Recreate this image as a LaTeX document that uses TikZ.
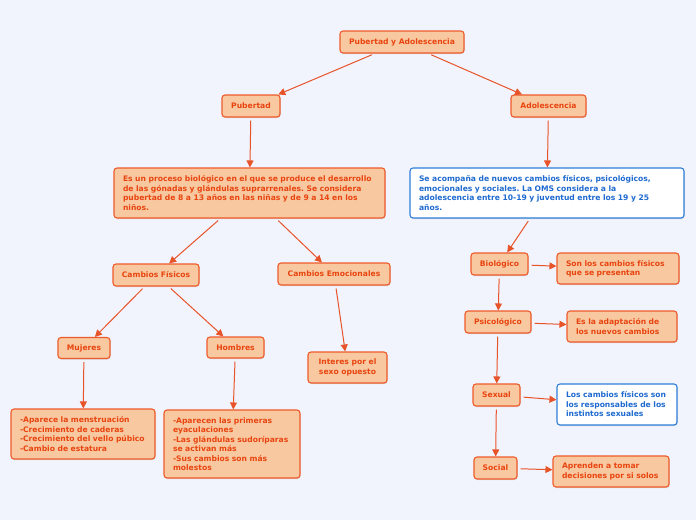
\documentclass[tikz,border=0pt]{standalone}
\usepackage{fontspec}
\setmainfont{DejaVu Sans}
\usetikzlibrary{arrows.meta,shadows}
\definecolor{bgc}{HTML}{F1F4FD}
\definecolor{fillc}{HTML}{F8C8A0}
\definecolor{bordc}{HTML}{EE5A2A}
\definecolor{txtc}{HTML}{E8440F}
\definecolor{edgec}{HTML}{E8542A}
\definecolor{bluec}{HTML}{2F7FD8}
\definecolor{bluetxt}{HTML}{1E6AD0}
\frenchspacing
\tikzset{
  box/.style={draw=bordc, fill=fillc, line width=1.1pt, rounded corners=3pt,
    text=txtc, font=\bfseries\fontsize{7.6}{9.5}\selectfont, inner sep=0pt,
    drop shadow={shadow xshift=0.6pt, shadow yshift=-1pt, opacity=0.25}},
  bluebox/.style={box, draw=bluec, fill=white, text=bluetxt},
  txtbox/.style={align=left, inner xsep=9pt},
  conn/.style={draw=edgec, line width=1pt, -{Triangle[length=7pt,width=7pt]}, shorten <=3pt}
}
\begin{document}
\begin{tikzpicture}[x=1pt,y=-1pt]
\fill[bgc] (0,0) rectangle (696,520);
\useasboundingbox (0,0) rectangle (696,520);

\node[box, minimum width=124pt, minimum height=22pt] (root) at (402,42) {Pubertad y Adolescencia};
\node[box, minimum width=58pt, minimum height=22pt] (pub) at (251,106) {Pubertad};
\node[box, minimum width=75pt, minimum height=22pt] (ado) at (548.5,106) {Adolescencia};

\node[box, txtbox, text width=253pt, minimum height=50pt] (pubd) at (249.5,193) {Es un proceso biológico en el que se produce el desarrollo\\de las gónadas y glándulas suprarrenales. Se considera\\pubertad de 8 a 13 años en las niñas y de 9 a 14 en los\\niños.};
\node[bluebox, txtbox, text width=256pt, minimum height=50pt] (adod) at (547,193) {Se acompaña de nuevos cambios físicos, psicológicos,\\emocionales y sociales. La OMS considera a la\\adolescencia entre 10-19 y juventud entre los 19 y 25\\años.};

\node[box, minimum width=86pt, minimum height=22pt] (cf) at (156,275) {Cambios Físicos};
\node[box, minimum width=112pt, minimum height=22pt] (ce) at (334,274) {Cambios Emocionales};
\node[box, minimum width=52pt, minimum height=21pt] (muj) at (84,348) {Mujeres};
\node[box, minimum width=57pt, minimum height=21pt] (hom) at (235.5,347.5) {Hombres};
\node[box, align=center, minimum width=79pt, minimum height=31pt] (int) at (347.5,367.5) {Interes por el\\sexo opuesto};

\node[box, txtbox, text width=126pt, minimum height=50pt] (mujl) at (83,434) {-Aparece la menstruación\\-Crecimiento de caderas\\-Crecimiento del vello púbico\\-Cambio de estatura};
\node[box, txtbox, text width=118pt, minimum height=68pt] (homl) at (232,444) {-Aparecen las primeras\\eyaculaciones\\-Las glándulas sudoríparas\\se activan más\\-Sus cambios son más\\molestos};

\node[box, minimum width=57pt, minimum height=22pt] (bio) at (499.5,264) {Biológico};
\node[box, txtbox, text width=104pt, minimum height=31pt] (biod) at (618,268.5) {Son los cambios físicos\\que se presentan};
\node[box, minimum width=66pt, minimum height=22pt] (psi) at (498,322) {Psicológico};
\node[box, txtbox, text width=92pt, minimum height=31pt] (psid) at (622,326.5) {Es la adaptación de\\los nuevos cambios};
\node[box, minimum width=47pt, minimum height=22pt] (sex) at (496.5,395) {Sexual};
\node[bluebox, txtbox, text width=102pt, minimum height=41pt] (sexd) at (617,404.5) {Los cambios físicos son\\los responsables de los\\instintos sexuales};
\node[box, minimum width=43pt, minimum height=22pt] (soc) at (495.5,468) {Social};
\node[box, txtbox, text width=98pt, minimum height=31pt] (socd) at (611,471.5) {Aprenden a tomar\\decisiones por si solos};

\draw[conn] (root) -- (pub);
\draw[conn] (root) -- (ado);
\draw[conn] (pub) -- (pubd);
\draw[conn] (ado) -- (adod);
\draw[conn] (pubd) -- (cf);
\draw[conn] (pubd) -- (ce);
\draw[conn] (cf) -- (muj);
\draw[conn] (cf) -- (hom);
\draw[conn] (ce) -- (int);
\draw[conn] (muj) -- (mujl);
\draw[conn] (hom) -- (homl);
\draw[conn] (adod) -- (bio);
\draw[conn] (bio) -- (biod);
\draw[conn] (bio) -- (psi);
\draw[conn] (psi) -- (psid);
\draw[conn] (psi) -- (sex);
\draw[conn] (sex) -- (sexd);
\draw[conn] (sex) -- (soc);
\draw[conn] (soc) -- (socd);
\end{tikzpicture}
\end{document}
